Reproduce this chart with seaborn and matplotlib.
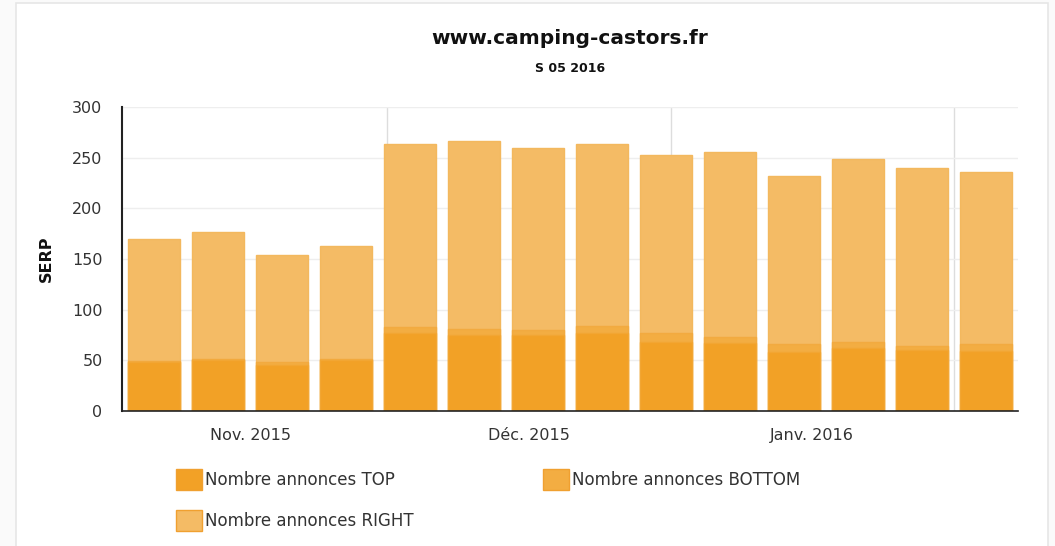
import matplotlib
matplotlib.use("Agg")
import matplotlib.pyplot as plt
import matplotlib.patches as mpatches
import seaborn as sns
import pandas as pd
import numpy as np

# weekly data, ISO weeks 45/2015 -> 05/2016
weeks = ["S45", "S46", "S47", "S48", "S49", "S50", "S51", "S52", "S53",
         "S01", "S02", "S03", "S04", "S05"]
week_start = pd.date_range("2015-11-02", periods=14, freq="7D")
top = [48, 50, 45, 50, 77, 75, 75, 77, 68, 67, 58, 62, 60, 59]
bottom = [1, 1, 3, 1, 6, 6, 5, 7, 9, 6, 8, 6, 4, 7]
right = [121, 126, 106, 112, 180, 185, 180, 179, 176, 183, 166, 181, 176, 170]

month_labels = ["Nov. 2015", "Déc. 2015", "Janv. 2016"]
month_starts = pd.to_datetime(["2015-11-01", "2015-12-01", "2016-01-01", "2016-02-01"])

c_top = "#f2a126"
c_bottom = "#f3ad42"
c_right = "#f4bb65"

df = pd.DataFrame({"week": weeks, "top": top, "bottom": bottom, "right": right})
df["tb"] = df["top"] + df["bottom"]
df["total"] = df["tb"] + df["right"]

sns.set_style("white")
plt.rcParams["font.family"] = ["DejaVu Sans"]

fig = plt.figure(figsize=(10.55, 5.46), dpi=100)
fig.patch.set_facecolor("#fafafa")
card = mpatches.Rectangle((16 / 1055, -0.01), (1048 - 16) / 1055, 1.01 - 3 / 546,
                          transform=fig.transFigure, facecolor="white",
                          edgecolor="#e6e6e6", linewidth=1.2, zorder=-5)
fig.patches.append(card)

ax = fig.add_axes([122 / 1055, 1 - 411 / 546, 896 / 1055, 304 / 546])
ax.set_facecolor("none")
ax.set_zorder(2)

kw = dict(x="week", ax=ax, width=0.81, linewidth=1, saturation=1)
sns.barplot(data=df, y="total", color=c_right, edgecolor="#f3b85e", **kw)
sns.barplot(data=df, y="tb", color=c_bottom, edgecolor="#f2aa40", **kw)
sns.barplot(data=df, y="top", color=c_top, edgecolor="#f2a633", **kw)

ax.set_xlim(-0.5, 13.5)
ax.set_ylim(0, 300)
ax.set_yticks(range(0, 301, 50))

# month boundaries in bar units
def to_pos(d):
    return (d - week_start[0]).days / 7 - 0.5

bounds = [to_pos(d) for d in month_starts]
ax.set_xticks(bounds[1:])
ax.set_xticklabels([])
ax.set_xticks([(a + b) / 2 for a, b in zip(bounds[:-1], bounds[1:])], minor=True)
ax.set_xticklabels(month_labels, minor=True)
ax.tick_params(axis="x", which="minor", length=0, pad=12, labelsize=11.5, labelcolor="#333333")
ax.tick_params(axis="x", which="major", length=9, width=1, color="#333333")
ax.tick_params(axis="y", length=10, width=1, color="#333333", labelsize=11.5,
               labelcolor="#333333", pad=4)

for b in bounds[1:]:
    ax.axvline(b, color="#dddddd", linewidth=1, zorder=0)
for v in range(50, 301, 50):
    ax.axhline(v, color="#eeeeee", linewidth=1, zorder=0)

for s in ["top", "right"]:
    ax.spines[s].set_visible(False)
ax.spines["left"].set_color("#222222")
ax.spines["left"].set_linewidth(1.5)
ax.spines["bottom"].set_color("#222222")
ax.spines["bottom"].set_linewidth(1.2)
ax.set_xlabel("")
ax.set_ylabel("SERP", fontsize=11.5, fontweight="bold", color="#111111")
ax.yaxis.set_label_coords(-0.076, 0.5)

fig.text(570 / 1055, 1 - 38 / 546, "www.camping-castors.fr", ha="center", va="center",
         fontsize=14.5, fontweight="bold", color="#111111")
fig.text(570 / 1055, 1 - 68 / 546, "S 05 2016", ha="center", va="center",
         fontsize=9, fontweight="bold", color="#111111")

h_top = mpatches.Patch(facecolor=c_top, edgecolor="#f0a030", label="Nombre annonces TOP")
h_bot = mpatches.Patch(facecolor=c_bottom, edgecolor="#f0a030", label="Nombre annonces BOTTOM")
h_rig = mpatches.Patch(facecolor=c_right, edgecolor="#f0a030", label="Nombre annonces RIGHT")
leg = fig.legend(handles=[h_top, h_rig, h_bot], ncol=2, loc="upper left",
                 bbox_to_anchor=(176 / 1055, 1 - 469 / 546), frameon=False,
                 fontsize=12, handlelength=1.55, handleheight=1.55,
                 handletextpad=0.2, columnspacing=7.75, labelspacing=1.22,
                 labelcolor="#333333", borderaxespad=0, borderpad=0)

fig.savefig("out.png", dpi=100, facecolor=fig.get_facecolor())
